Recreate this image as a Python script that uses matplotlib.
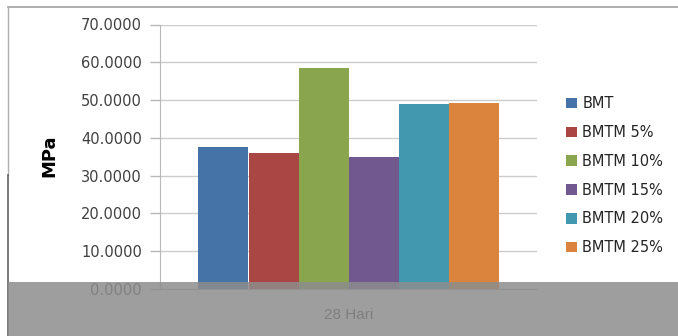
import numpy as np
import matplotlib
matplotlib.use("Agg")
import matplotlib.pyplot as plt
from matplotlib.patches import Rectangle, Patch

# data
categories = ["28 Hari"]
series_names = ["BMT", "BMTM 5%", "BMTM 10%", "BMTM 15%", "BMTM 20%", "BMTM 25%"]
values = [37.5, 35.9, 58.6, 34.9, 48.9, 49.1]
colors = ["#4572A7", "#AA4643", "#89A54E", "#71588F", "#4198AF", "#DB843D"]
yticks = [0, 10, 20, 30, 40, 50, 60, 70]

W, H = 678, 336
fig = plt.figure(figsize=(W / 100, H / 100), dpi=100)
fig.patch.set_facecolor("white")

# plot area in pixels: x 160..537, y 24.5..289
ax = fig.add_axes([160 / W, 1 - 289 / H, (537 - 160) / W, (289 - 24.5) / H])

n = len(values)
offsets = np.arange(n) - (n - 1) / 2
for i, (name, v, c) in enumerate(zip(series_names, values, colors)):
    ax.bar(offsets[i], v, width=1.0, color=c, label=name, zorder=3)

ax.set_xlim(-3.77, 3.77)
ax.set_ylim(0, 70)
ax.set_yticks(yticks)
ax.set_yticklabels(["%.4f" % t for t in yticks], fontsize=10.5, color="#404040")
ax.set_xticks([0])
ax.set_xticklabels(categories, fontsize=11, color="#303030", family="Liberation Sans")
ax.tick_params(axis="x", length=0, pad=14)
ax.tick_params(axis="y", length=7, width=1, color="#b8b8b8", pad=6)
ax.grid(axis="y", color="#cccccc", linewidth=1, zorder=0)
for s in ["top", "right"]:
    ax.spines[s].set_visible(False)
for s in ["left", "bottom"]:
    ax.spines[s].set_color("#b8b8b8")

fig.text(49 / W, 1 - 156 / H, "MPa", rotation=90, fontsize=13, fontweight="bold",
         ha="center", va="center")

handles = [Patch(facecolor=c, edgecolor="none") for c in colors]
fig.legend(handles, series_names, loc="upper left",
           bbox_to_anchor=(566 / W, 1 - 96 / H), frameon=False, fontsize=10.5,
           borderpad=0, borderaxespad=0, labelspacing=0.95,
           handlelength=0.72, handleheight=0.72, handletextpad=0.4,
           labelcolor="#252525")

# outer chart border
fig.add_artist(plt.Line2D([8 / W, 1], [1 - 7 / H, 1 - 7 / H], transform=fig.transFigure,
                          color="#a0a0a0", linewidth=1.2))
fig.add_artist(plt.Line2D([8 / W, 8 / W], [1 - 7 / H, 1 - 175 / H], transform=fig.transFigure,
                          color="#b0b0b0", linewidth=1))
fig.add_artist(plt.Line2D([8 / W, 8 / W], [1 - 175 / H, 0], transform=fig.transFigure,
                          color="#606060", linewidth=1.2))

# grey scan band across the bottom
fig.patches.append(Rectangle((8 / W, 0), 1, 54 / H, transform=fig.transFigure,
                             facecolor="#8d8d8d", edgecolor="none", alpha=0.85,
                             zorder=10))

fig.savefig("out.png", dpi=100)
